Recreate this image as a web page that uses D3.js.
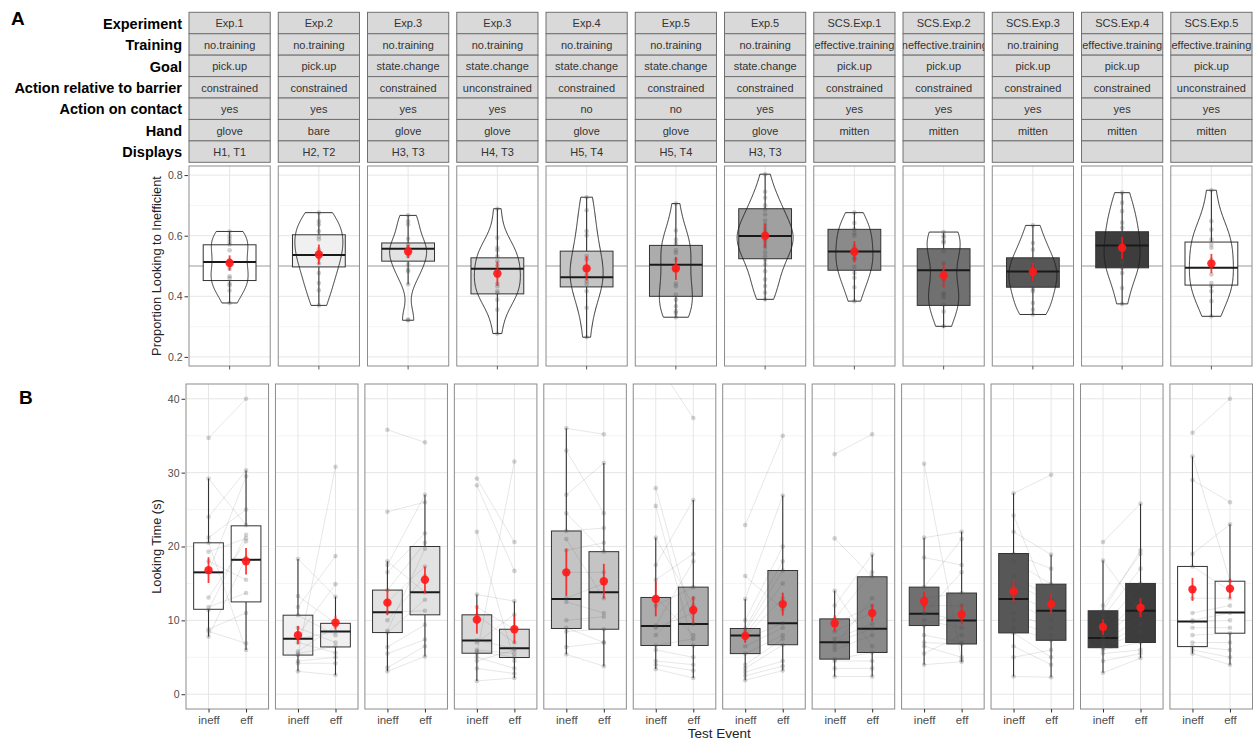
<!DOCTYPE html>
<html>
<head>
<meta charset="utf-8">
<script src="https://cdn.jsdelivr.net/npm/d3@7"></script>
<style>
  body { margin: 0; background: #fff; }
  svg { display: block; font-family: "Liberation Sans", Arial, Helvetica, sans-serif; }
</style>
</head>
<body>
<svg id="chart" width="1253" height="742"></svg>
<script>
// ---------- facet labels ----------
const experiment = ["Exp.1", "Exp.2", "Exp.3", "Exp.3", "Exp.4", "Exp.5", "Exp.5", "SCS.Exp.1", "SCS.Exp.2", "SCS.Exp.3", "SCS.Exp.4", "SCS.Exp.5"];
const training = ["no.training", "no.training", "no.training", "no.training", "no.training", "no.training", "no.training", "effective.training", "ineffective.training", "no.training", "effective.training", "effective.training"];
const goal = ["pick.up", "pick.up", "state.change", "state.change", "state.change", "state.change", "state.change", "pick.up", "pick.up", "pick.up", "pick.up", "pick.up"];
const barrier = ["constrained", "constrained", "constrained", "unconstrained", "constrained", "constrained", "constrained", "constrained", "constrained", "constrained", "constrained", "unconstrained"];
const contact = ["yes", "yes", "yes", "yes", "no", "no", "yes", "yes", "yes", "yes", "yes", "yes"];
const hand = ["glove", "bare", "glove", "glove", "glove", "glove", "glove", "mitten", "mitten", "mitten", "mitten", "mitten"];
const displays = ["H1, T1", "H2, T2", "H3, T3", "H4, T3", "H5, T4", "H5, T4", "H3, T3", "", "", "", "", ""];
const facetNames = ["Experiment", "Training", "Goal", "Action relative to barrier", "Action on contact", "Hand", "Displays"];

// ---------- A: proportion of looking to the inefficient event ----------
const propA = [
  [0.614, 0.600, 0.590, 0.579, 0.571, 0.552, 0.520, 0.509, 0.491, 0.466, 0.459, 0.442, 0.436, 0.419, 0.378],
  [0.676, 0.648, 0.637, 0.615, 0.597, 0.588, 0.555, 0.544, 0.524, 0.508, 0.477, 0.444, 0.420, 0.370],
  [0.667, 0.648, 0.637, 0.590, 0.570, 0.563, 0.554, 0.545, 0.532, 0.505, 0.488, 0.482, 0.440, 0.323, 0.321],
  [0.689, 0.593, 0.560, 0.552, 0.532, 0.516, 0.502, 0.483, 0.466, 0.442, 0.433, 0.417, 0.411, 0.389, 0.356, 0.277],
  [0.727, 0.684, 0.615, 0.601, 0.533, 0.522, 0.489, 0.470, 0.450, 0.440, 0.417, 0.362, 0.265],
  [0.706, 0.617, 0.587, 0.574, 0.552, 0.543, 0.521, 0.488, 0.442, 0.433, 0.406, 0.389, 0.367, 0.351, 0.345, 0.331],
  [0.803, 0.745, 0.725, 0.700, 0.686, 0.670, 0.650, 0.637, 0.625, 0.615, 0.605, 0.598, 0.590, 0.582, 0.570, 0.560, 0.545, 0.532, 0.520, 0.505, 0.483, 0.456, 0.434, 0.412, 0.390],
  [0.676, 0.642, 0.621, 0.609, 0.600, 0.563, 0.548, 0.527, 0.522, 0.497, 0.477, 0.461, 0.430, 0.384],
  [0.612, 0.600, 0.595, 0.582, 0.577, 0.549, 0.510, 0.455, 0.410, 0.405, 0.395, 0.372, 0.350, 0.301],
  [0.634, 0.576, 0.554, 0.521, 0.499, 0.490, 0.466, 0.455, 0.424, 0.417, 0.378, 0.356, 0.340],
  [0.742, 0.709, 0.681, 0.643, 0.626, 0.610, 0.588, 0.566, 0.538, 0.516, 0.510, 0.494, 0.477, 0.427, 0.375],
  [0.750, 0.648, 0.620, 0.587, 0.571, 0.560, 0.521, 0.499, 0.472, 0.444, 0.433, 0.417, 0.384, 0.334]
];
// box statistics: [lower whisker, Q1, median, Q3, upper whisker]
const boxA = [
  [0.378, 0.452, 0.513, 0.570, 0.614],
  [0.370, 0.497, 0.536, 0.603, 0.676],
  [0.440, 0.516, 0.557, 0.576, 0.667],
  [0.277, 0.408, 0.491, 0.527, 0.689],
  [0.263, 0.431, 0.463, 0.549, 0.727],
  [0.331, 0.400, 0.504, 0.568, 0.706],
  [0.386, 0.524, 0.599, 0.689, 0.803],
  [0.384, 0.486, 0.548, 0.621, 0.676],
  [0.296, 0.370, 0.486, 0.557, 0.610],
  [0.338, 0.430, 0.482, 0.527, 0.635],
  [0.373, 0.494, 0.568, 0.613, 0.742],
  [0.332, 0.437, 0.494, 0.579, 0.750]
];
const meanA = [0.510, 0.538, 0.548, 0.475, 0.492, 0.492, 0.600, 0.547, 0.469, 0.481, 0.560, 0.508];
const seA = [0.025, 0.033, 0.022, 0.040, 0.040, 0.038, 0.040, 0.035, 0.040, 0.030, 0.037, 0.032];

// ---------- B: looking time (s) per infant, inefficient vs efficient ----------
const events = ["ineff", "eff"];
const ineffB = [
  [34.7, 29.2, 24.0, 21.2, 20.5, 19.3, 18.0, 16.5, 13.1, 11.8, 11.4, 8.8, 8.5, 7.8],
  [18.3, 13.3, 11.8, 10.7, 9.0, 8.0, 7.5, 7.0, 5.8, 5.5, 5.3, 4.5, 4.2, 3.1],
  [35.8, 24.7, 18.0, 17.5, 16.5, 14.1, 12.5, 11.1, 10.0, 8.6, 8.35, 6.4, 5.5, 3.6, 3.1],
  [29.2, 28.3, 22.0, 13.5, 11.8, 10.7, 7.3, 7.0, 6.0, 5.8, 5.5, 5.0, 4.5, 3.5, 1.8],
  [36.0, 33.0, 27.0, 24.5, 22.1, 21.0, 19.5, 16.5, 13.0, 12.5, 10.0, 9.0, 8.5, 6.4, 5.4],
  [45.1, 27.9, 25.5, 21.2, 17.5, 15.5, 13.1, 12.0, 9.3, 9.0, 8.0, 6.6, 6.0, 4.5, 4.0, 3.4],
  [22.9, 16.0, 12.9, 10.0, 8.9, 8.5, 8.0, 7.8, 7.5, 6.5, 5.5, 4.0, 3.5, 3.0, 2.5, 1.9],
  [32.5, 21.1, 14.0, 12.0, 10.2, 9.5, 8.5, 7.5, 7.0, 6.5, 6.0, 4.75, 4.5, 3.5, 2.4],
  [31.2, 21.2, 18.5, 14.5, 13.0, 12.0, 11.0, 10.9, 10.0, 9.3, 8.0, 7.0, 6.5, 5.5, 4.0],
  [27.2, 24.2, 22.0, 19.0, 18.0, 16.0, 15.0, 13.5, 12.5, 11.0, 10.0, 9.0, 8.3, 6.5, 5.0, 2.4],
  [20.6, 18.1, 12.0, 11.3, 10.5, 9.0, 8.0, 7.6, 7.0, 6.5, 6.3, 6.0, 5.5, 4.5, 2.9],
  [35.4, 32.2, 29.0, 19.0, 17.3, 13.0, 11.0, 10.0, 9.8, 9.0, 8.0, 7.0, 6.45, 6.0, 5.5]
];
const effB = [
  [40.0, 22.9, 30.3, 25.0, 6.0, 21.1, 15.5, 29.5, 20.7, 13.7, 21.6, 11.0, 6.9, 18.5],
  [13.2, 9.6, 18.7, 8.0, 7.0, 14.9, 8.5, 5.6, 9.2, 6.5, 30.8, 5.0, 4.2, 2.6],
  [34.1, 26.0, 13.8, 27.0, 21.8, 20.5, 17.3, 11.3, 16.0, 19.7, 12.8, 9.4, 7.4, 6.5, 5.1],
  [20.6, 16.7, 4.5, 12.6, 8.8, 7.0, 6.2, 10.8, 5.5, 5.0, 31.5, 3.5, 6.0, 2.8, 2.2],
  [35.2, 24.5, 31.3, 19.3, 22.5, 13.0, 20.5, 16.5, 15.0, 11.0, 10.5, 7.0, 8.8, 7.0, 3.8],
  [37.4, 9.5, 6.6, 12.0, 26.3, 19.0, 8.0, 14.5, 18.0, 11.0, 13.0, 7.5, 5.0, 4.0, 3.2, 2.2],
  [35.0, 11.5, 26.9, 20.0, 18.0, 16.75, 15.0, 13.0, 9.6, 9.0, 8.0, 7.5, 6.7, 4.5, 3.8, 3.2],
  [35.2, 15.9, 6.5, 18.9, 16.5, 12.0, 11.0, 9.5, 8.85, 13.0, 8.0, 5.65, 4.5, 3.5, 2.4],
  [4.6, 22.0, 17.5, 21.0, 13.7, 12.0, 10.0, 16.5, 9.0, 11.0, 7.0, 6.8, 5.0, 8.0, 4.4],
  [29.7, 12.0, 18.9, 17.0, 14.9, 13.0, 12.5, 11.3, 10.0, 9.0, 8.0, 7.3, 5.0, 4.0, 6.0, 2.3],
  [25.8, 11.3, 19.0, 19.5, 17.0, 15.0, 13.0, 12.0, 10.5, 9.5, 8.5, 7.0, 6.0, 5.5, 4.9],
  [40.0, 15.3, 26.0, 23.0, 14.0, 13.0, 12.0, 11.0, 10.0, 9.0, 8.26, 7.0, 6.0, 5.0, 4.0]
];
const boxIneffB = [
  [7.8, 11.5, 16.5, 20.5, 29.2], [3.1, 5.3, 7.5, 10.7, 18.3], [3.1, 8.35, 11.1, 14.1, 18.0],
  [1.8, 5.55, 7.27, 10.75, 13.5], [5.4, 8.9, 12.9, 22.1, 36.0], [3.4, 6.6, 9.25, 13.1, 21.2],
  [1.9, 5.5, 7.95, 8.9, 12.9], [2.4, 4.75, 7.05, 10.2, 14.0], [4.0, 9.3, 10.9, 14.5, 21.2],
  [2.4, 8.3, 12.9, 19.05, 27.2], [2.9, 6.3, 7.6, 11.3, 18.1], [5.5, 6.45, 9.85, 17.3, 32.2]
];
const boxEffB = [
  [6.0, 12.5, 18.2, 22.8, 30.3], [2.6, 6.4, 8.5, 9.6, 13.2], [5.1, 10.75, 13.8, 20.0, 27.0],
  [2.2, 4.97, 6.23, 8.8, 12.6], [3.8, 8.8, 13.8, 19.3, 31.3], [2.2, 6.6, 9.5, 14.5, 26.3],
  [3.2, 6.7, 9.6, 16.75, 26.9], [2.4, 5.65, 8.85, 15.9, 18.9], [4.4, 6.8, 9.98, 13.7, 22.0],
  [2.3, 7.3, 11.3, 14.9, 18.9], [4.9, 7.0, 11.3, 15.0, 25.8], [4.0, 8.26, 11.06, 15.3, 23.0]
];
const meanIneffB = [16.8, 8.0, 12.4, 10.1, 16.5, 12.9, 7.9, 9.6, 12.6, 13.9, 9.1, 14.2];
const seIneffB = [1.75, 1.25, 1.7, 1.9, 3.2, 2.35, 0.95, 1.1, 1.3, 1.5, 1.05, 1.55];
const meanEffB = [18.0, 9.7, 15.5, 8.8, 15.3, 11.4, 12.2, 11.0, 10.8, 12.2, 11.7, 14.3];
const seEffB = [1.8, 0.95, 1.8, 1.95, 2.35, 1.85, 1.55, 1.15, 1.35, 1.35, 1.25, 1.35];

// ---------- styling ----------
const shade = ["#ffffff", "#f0f0f0", "#e2e2e2", "#d8d8d8", "#c4c4c4", "#acacac", "#a0a0a0", "#8a8a8a", "#707070", "#575757", "#3d3d3d", "#ffffff"];
const violinWidth = [37, 48, 37, 46, 33, 33, 56, 37, 33, 48, 36, 44];
const gridMajor = "#e6e6e6", gridMinor = "#f1f1f1";
const borderCol = "#8c8c8c";

const svg = d3.select("#chart");
const defs = svg.append("defs");
const nP = experiment.length;

// panel layout
const xPanelA = d3.scaleBand().domain(d3.range(nP)).range([189, 1252]).paddingInner(0.09).paddingOuter(0);
const xPanelB = d3.scaleBand().domain(d3.range(nP)).range([186, 1252.5]).paddingInner(0.077).paddingOuter(0);
const wA = xPanelA.bandwidth(), wB = xPanelB.bandwidth();
const yA = d3.scaleLinear().domain([0.17, 0.83]).range([366, 166]);
const yB = d3.scaleLinear().domain([-2, 42]).range([709, 384]);
const xEvent = d3.scalePoint().domain(events).range([0, wB]).padding(0.6);

// ---------- facet strips ----------
const stripTop = 12.3, stripH = 21.43;
const facetRows = [experiment, training, goal, barrier, contact, hand, displays];

facetNames.forEach((name, r) => {
  svg.append("text")
    .attr("x", 182).attr("y", stripTop + r * stripH + stripH / 2 + 0.5)
    .attr("dy", "0.36em").attr("text-anchor", "end")
    .attr("font-weight", "bold").attr("font-size", 14.5).attr("fill", "#000")
    .text(name);
});

d3.range(nP).forEach(i => {
  const x0 = xPanelA(i);
  defs.append("clipPath").attr("id", "strip" + i)
    .append("rect").attr("x", x0).attr("y", stripTop).attr("width", wA).attr("height", stripH * 7);
  const g = svg.append("g");
  facetRows.forEach((row, r) => {
    const y0 = stripTop + r * stripH;
    g.append("rect").attr("x", x0).attr("y", y0).attr("width", wA).attr("height", stripH)
      .attr("fill", "#d9d9d9").attr("stroke", "#707070").attr("stroke-width", 1);
    g.append("text").attr("clip-path", "url(#strip" + i + ")")
      .attr("x", x0 + wA / 2).attr("y", y0 + stripH / 2 + 0.5).attr("dy", "0.35em")
      .attr("text-anchor", "middle").attr("font-size", 11).attr("fill", "#333")
      .text(row[i]);
  });
});

// ---------- helpers ----------
// Gaussian kernel density (Silverman bandwidth), trimmed to the data range
function kde(values, n, adjust) {
  const v = values.slice().sort(d3.ascending);
  const sd = d3.deviation(v);
  const iqr = d3.quantile(v, 0.75) - d3.quantile(v, 0.25);
  const bw = adjust * 0.9 * Math.min(sd, iqr / 1.34) * Math.pow(v.length, -0.2);
  const lo = v[0], hi = v[v.length - 1];
  return d3.range(n).map(k => {
    const y = lo + (hi - lo) * k / (n - 1);
    const d = d3.mean(v, x => Math.exp(-0.5 * ((y - x) / bw) ** 2)) / (bw * Math.sqrt(2 * Math.PI));
    return [y, d];
  });
}

function drawBox(g, cx, bw, stats, fill, y) {
  const [lo, q1, med, q3, hi] = stats;
  g.append("line").attr("x1", cx).attr("x2", cx).attr("y1", y(hi)).attr("y2", y(q3))
    .attr("stroke", "#333").attr("stroke-width", 1.1);
  g.append("line").attr("x1", cx).attr("x2", cx).attr("y1", y(q1)).attr("y2", y(lo))
    .attr("stroke", "#333").attr("stroke-width", 1.1);
  g.append("rect").attr("x", cx - bw / 2).attr("y", y(q3)).attr("width", bw).attr("height", y(q1) - y(q3))
    .attr("fill", fill).attr("stroke", "#333").attr("stroke-width", 1);
  g.append("line").attr("x1", cx - bw / 2).attr("x2", cx + bw / 2).attr("y1", y(med)).attr("y2", y(med))
    .attr("stroke", "#1a1a1a").attr("stroke-width", 2);
}

function drawMean(g, cx, m, se, y) {
  g.append("line").attr("x1", cx).attr("x2", cx).attr("y1", y(m + se)).attr("y2", y(m - se))
    .attr("stroke", "#ff1a1a").attr("stroke-width", 1.8).attr("opacity", 0.85);
  g.append("circle").attr("cx", cx).attr("cy", y(m)).attr("r", 4.2)
    .attr("fill", "#ff1a1a").attr("opacity", 0.92);
}

// ---------- panel A ----------
d3.range(nP).forEach(i => {
  const x0 = xPanelA(i), cx = wA / 2;
  const g = svg.append("g").attr("transform", `translate(${x0},0)`);
  defs.append("clipPath").attr("id", "panA" + i)
    .append("rect").attr("x", 0).attr("y", yA.range()[1]).attr("width", wA).attr("height", yA.range()[0] - yA.range()[1]);
  const inner = g.append("g").attr("clip-path", "url(#panA" + i + ")");
  inner.append("rect").attr("x", 0).attr("y", 166).attr("width", wA).attr("height", 200).attr("fill", "#fff");
  [0.3, 0.5, 0.7].forEach(t => inner.append("line").attr("x1", 0).attr("x2", wA)
    .attr("y1", yA(t)).attr("y2", yA(t)).attr("stroke", gridMinor).attr("stroke-width", 0.8));
  [0.2, 0.4, 0.6, 0.8].forEach(t => inner.append("line").attr("x1", 0).attr("x2", wA)
    .attr("y1", yA(t)).attr("y2", yA(t)).attr("stroke", gridMajor).attr("stroke-width", 1));
  inner.append("line").attr("x1", cx).attr("x2", cx).attr("y1", 166).attr("y2", 366)
    .attr("stroke", gridMajor).attr("stroke-width", 1);
  // chance level
  inner.append("line").attr("x1", 0).attr("x2", wA).attr("y1", yA(0.5)).attr("y2", yA(0.5))
    .attr("stroke", "#8a8a8a").attr("stroke-width", 0.8);

  drawBox(inner, cx, wA * 0.65, boxA[i], shade[i], yA);

  // violin outline over the box
  const dens = kde(propA[i], 150, 1.1);
  const dMax = d3.max(dens, d => d[1]);
  const half = violinWidth[i] / 2;
  const area = d3.area().curve(d3.curveBasis)
    .x0(d => cx - d[1] / dMax * half).x1(d => cx + d[1] / dMax * half)
    .y(d => yA(d[0]));
  inner.append("path").attr("d", area(dens)).attr("fill", "none")
    .attr("stroke", "#1f1f1f").attr("stroke-width", 0.9);

  inner.selectAll("circle.pt").data(propA[i]).join("circle").attr("class", "pt")
    .attr("cx", cx).attr("cy", d => yA(d)).attr("r", 2.3)
    .attr("fill", "#4a4a4a").attr("fill-opacity", 0.28);

  drawMean(inner, cx, meanA[i], seA[i], yA);

  g.append("rect").attr("x", 0).attr("y", 166).attr("width", wA).attr("height", 200)
    .attr("fill", "none").attr("stroke", borderCol).attr("stroke-width", 1);
  // x tick
  g.append("line").attr("x1", cx).attr("x2", cx).attr("y1", 366).attr("y2", 369.5)
    .attr("stroke", "#333").attr("stroke-width", 0.8);
});

// y axis A
const axA = svg.append("g").attr("transform", "translate(188,0)")
  .call(d3.axisLeft(yA).tickValues([0.2, 0.4, 0.6, 0.8]).tickSize(3.5).tickPadding(2).tickFormat(d3.format(".1f")));
axA.select(".domain").remove();
axA.selectAll(".tick line").attr("stroke", "#333");
axA.selectAll(".tick text").attr("fill", "#4d4d4d").attr("font-size", 10.5)
  .attr("font-family", "Liberation Sans, Arial, sans-serif");

svg.append("text").attr("transform", `translate(161,${(yA.range()[0] + yA.range()[1]) / 2}) rotate(-90)`)
  .attr("text-anchor", "middle").attr("font-size", 12.8).attr("fill", "#222")
  .text("Proportion Looking to Inefficient");

// ---------- panel B ----------
d3.range(nP).forEach(i => {
  const x0 = xPanelB(i);
  const g = svg.append("g").attr("transform", `translate(${x0},0)`);
  defs.append("clipPath").attr("id", "panB" + i)
    .append("rect").attr("x", 0).attr("y", 384).attr("width", wB).attr("height", 325);
  const inner = g.append("g").attr("clip-path", "url(#panB" + i + ")");
  inner.append("rect").attr("x", 0).attr("y", 384).attr("width", wB).attr("height", 325).attr("fill", "#fff");
  [5, 15, 25, 35].forEach(t => inner.append("line").attr("x1", 0).attr("x2", wB)
    .attr("y1", yB(t)).attr("y2", yB(t)).attr("stroke", gridMinor).attr("stroke-width", 0.8));
  [0, 10, 20, 30, 40].forEach(t => inner.append("line").attr("x1", 0).attr("x2", wB)
    .attr("y1", yB(t)).attr("y2", yB(t)).attr("stroke", gridMajor).attr("stroke-width", 1));
  events.forEach(e => inner.append("line").attr("x1", xEvent(e)).attr("x2", xEvent(e))
    .attr("y1", 384).attr("y2", 709).attr("stroke", gridMajor).attr("stroke-width", 1));

  const xi = xEvent("ineff"), xe = xEvent("eff");
  drawBox(inner, xi, wB * 0.36, boxIneffB[i], shade[i], yB);
  drawBox(inner, xe, wB * 0.36, boxEffB[i], shade[i], yB);

  // paired lines per infant
  inner.selectAll("line.pair").data(d3.zip(ineffB[i], effB[i])).join("line").attr("class", "pair")
    .attr("x1", xi).attr("x2", xe).attr("y1", d => yB(d[0])).attr("y2", d => yB(d[1]))
    .attr("stroke", "#555").attr("stroke-opacity", 0.16).attr("stroke-width", 0.9);
  inner.selectAll("circle.pi").data(ineffB[i]).join("circle").attr("class", "pi")
    .attr("cx", xi).attr("cy", d => yB(d)).attr("r", 2.3)
    .attr("fill", "#4a4a4a").attr("fill-opacity", 0.24);
  inner.selectAll("circle.pe").data(effB[i]).join("circle").attr("class", "pe")
    .attr("cx", xe).attr("cy", d => yB(d)).attr("r", 2.3)
    .attr("fill", "#4a4a4a").attr("fill-opacity", 0.24);

  drawMean(inner, xi, meanIneffB[i], seIneffB[i], yB);
  drawMean(inner, xe, meanEffB[i], seEffB[i], yB);

  g.append("rect").attr("x", 0).attr("y", 384).attr("width", wB).attr("height", 325)
    .attr("fill", "none").attr("stroke", borderCol).attr("stroke-width", 1);

  const ax = g.append("g").attr("transform", "translate(0,709)")
    .call(d3.axisBottom(xEvent).tickSize(3.5).tickPadding(3));
  ax.select(".domain").remove();
  ax.selectAll(".tick line").attr("stroke", "#333");
  ax.selectAll(".tick text").attr("fill", "#4d4d4d").attr("font-size", 11.5)
    .attr("font-family", "Liberation Sans, Arial, sans-serif");
});

const axB = svg.append("g").attr("transform", "translate(185,0)")
  .call(d3.axisLeft(yB).tickValues([0, 10, 20, 30, 40]).tickSize(3.5).tickPadding(2));
axB.select(".domain").remove();
axB.selectAll(".tick line").attr("stroke", "#333");
axB.selectAll(".tick text").attr("fill", "#4d4d4d").attr("font-size", 10.5)
  .attr("font-family", "Liberation Sans, Arial, sans-serif");

svg.append("text").attr("transform", `translate(161,${(384 + 709) / 2}) rotate(-90)`)
  .attr("text-anchor", "middle").attr("font-size", 12.8).attr("fill", "#222")
  .text("Looking Time (s)");

svg.append("text").attr("x", (xPanelB(0) + xPanelB(nP - 1) + wB) / 2).attr("y", 738)
  .attr("text-anchor", "middle").attr("font-size", 13.5).attr("fill", "#222")
  .text("Test Event");

// panel letters
svg.append("text").attr("x", 11).attr("y", 25).attr("font-size", 19).attr("font-weight", "bold").text("A");
svg.append("text").attr("x", 19).attr("y", 404).attr("font-size", 19).attr("font-weight", "bold").text("B");
</script>
</body>
</html>
